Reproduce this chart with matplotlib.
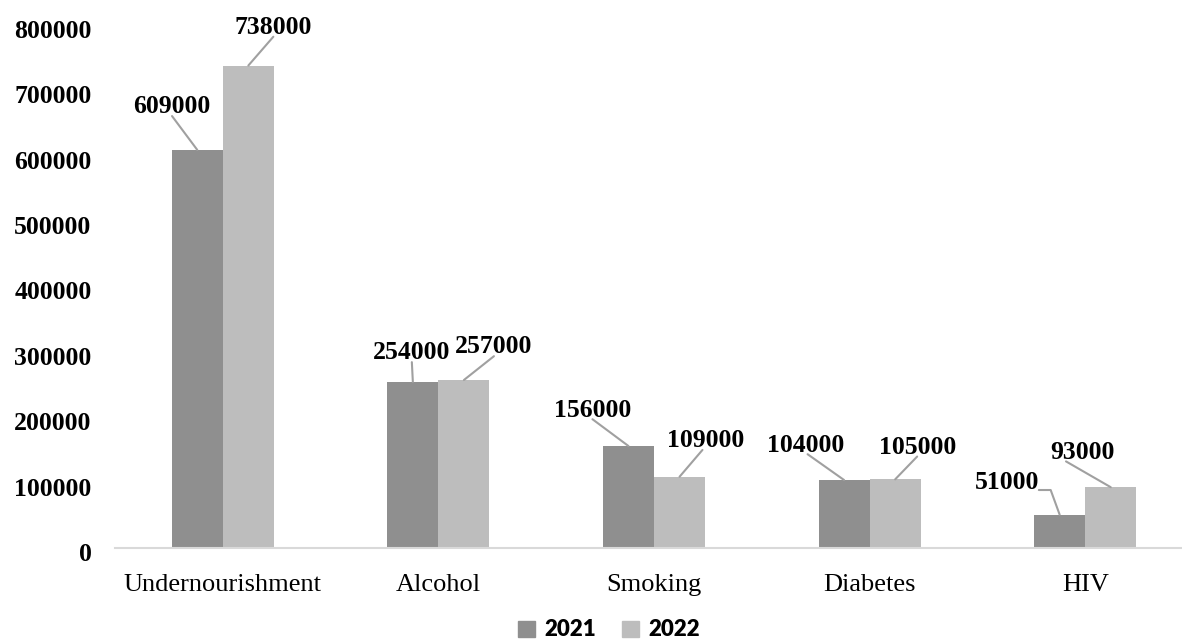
import matplotlib
matplotlib.use("Agg")
import matplotlib.pyplot as plt
import matplotlib.transforms as mtransforms
import numpy as np
from matplotlib.patches import Patch

categories = ["Undernourishment", "Alcohol", "Smoking", "Diabetes", "HIV"]
years = ["2021", "2022"]
vals_2021 = [609000, 254000, 156000, 104000, 51000]
vals_2022 = [738000, 257000, 109000, 105000, 93000]
yticks = [0, 100000, 200000, 300000, 400000, 500000, 600000, 700000, 800000]

# label offsets from bar top (pixels), hand placed like the original
offs_2021 = [(-26, 43), (-1, 29), (-36, 36), (-38, 35), (-53, 32)]
offs_2022 = [(25, 38), (30, 33), (26, 36), (22, 32), (-28, 35)]
# where the leader leaves the label (fraction of label box)
rel_2021 = [(0.51, 0.1), (0.5, 0.1), (0.5, 0.1), (0.52, 0.1), (1.0, 0.18)]
rel_2022 = [(0.5, 0.1), (0.5, 0.1), (0.46, 0.1), (0.5, 0.1), (0.24, 0.1)]

c2021 = "#8f8f8f"
c2022 = "#bdbdbd"
lead = "#a0a0a0"
serif = "Liberation Serif"

fig = plt.figure(figsize=(11.82, 6.39), dpi=100)
ax = fig.add_axes([115 / 1182, 91 / 639, 1078 / 1182, 523 / 639])

x = np.arange(len(categories))
w = 0.237
b1 = ax.bar(x - w / 2, vals_2021, w, color=c2021)
b2 = ax.bar(x + w / 2, vals_2022, w, color=c2022)

ax.set_xlim(-0.5, 4.5)
ax.set_ylim(0, 800000)
ax.set_yticks(yticks)
ax.set_yticklabels([str(t) for t in yticks], fontfamily=serif,
                   fontweight="bold", fontsize=18.5)
ax.set_xticks(x)
ax.set_xticklabels(categories, fontfamily=serif, fontsize=19)
ax.tick_params(axis="y", length=0, pad=17)
ax.tick_params(axis="x", length=0, pad=19)
shift = mtransforms.ScaledTranslation(0, -4 / 100, fig.dpi_scale_trans)
for t in ax.get_yticklabels():
    t.set_transform(t.get_transform() + shift)
for s in ["top", "right", "left"]:
    ax.spines[s].set_visible(False)
ax.spines["bottom"].set_color("#d9d9d9")
ax.spines["bottom"].set_linewidth(1.5)


def label(bars, vals, offs, rels):
    for b, v, o, r in zip(bars, vals, offs, rels):
        xc = b.get_x() + b.get_width() / 2
        conn = "arc3"
        if v == 51000:
            conn = "angle,angleA=0,angleB=110,rad=0"
        ax.annotate(str(v), xy=(xc, v), xytext=o, textcoords="offset pixels",
                    ha="center", va="center", fontfamily=serif,
                    fontweight="bold", fontsize=18.5,
                    arrowprops=dict(arrowstyle="-", color=lead, lw=1.5,
                                    patchA=None, shrinkA=0, shrinkB=0,
                                    connectionstyle=conn, relpos=r))


label(b1, vals_2021, offs_2021, rel_2021)
label(b2, vals_2022, offs_2022, rel_2022)

handles = [Patch(color=c2021), Patch(color=c2022)]
fig.legend(handles, years, loc="center", bbox_to_anchor=(609 / 1182, 1 - 630 / 639),
           ncol=2, frameon=False, handlelength=0.75, handleheight=0.75,
           handletextpad=0.4, columnspacing=1.2,
           prop={"family": "Lato", "weight": "heavy", "size": 16})

fig.savefig("out.png", dpi=100)
